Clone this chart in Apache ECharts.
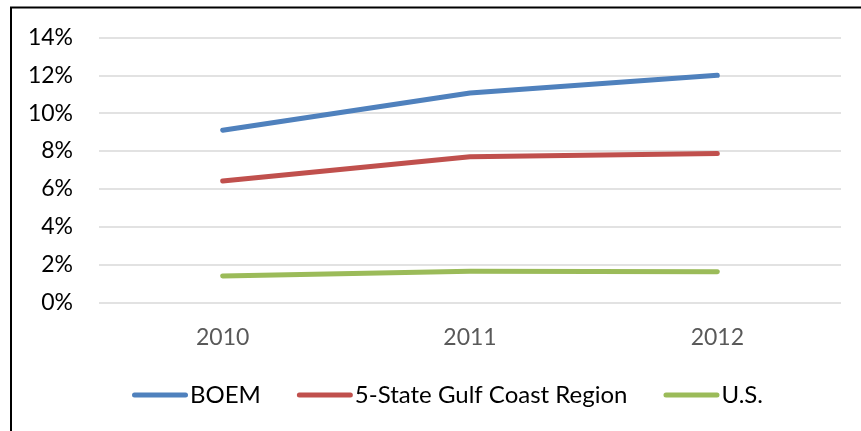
<!DOCTYPE html>
<html><head><meta charset="utf-8">
<script src="https://cdn.jsdelivr.net/npm/echarts@6/dist/echarts.min.js"></script>
<style>html,body{margin:0;padding:0;background:#fff}#c{width:861px;height:431px}</style>
</head><body><div id="c"></div>
<script>
const categories = ['2010', '2011', '2012'];
const boem = [9.1, 11.07, 12.0];
const gulf = [6.42, 7.7, 7.87];
const us = [1.4, 1.65, 1.63];
const yTicks = [0, 2, 4, 6, 8, 10, 12, 14];
const seriesNames = ['BOEM', '5-State Gulf Coast Region', 'U.S.'];
const colors = ['#4F81BD', '#C0504D', '#9BBB59'];

const FONT = 'Lato';
const capsule = 'path://M2.5,0H53.5A2.5,2.5,0,0,1,53.5,5H2.5A2.5,2.5,0,0,1,2.5,0Z';
const chart = echarts.init(document.getElementById('c'));
const mk = (name, data, color) => ({
  name, type: 'line', data, symbol: 'none', smooth: false,
  lineStyle: { width: 5, color, cap: 'round', join: 'round' },
  itemStyle: { color }
});
chart.setOption({
  animation: false,
  grid: { left: 99, right: 20, top: 37.5, bottom: 128.5 },
  xAxis: {
    type: 'category', data: categories, boundaryGap: true,
    axisLine: { show: false }, axisTick: { show: false },
    axisLabel: { color: '#595959', fontFamily: FONT, fontSize: 23, margin: 24 }
  },
  yAxis: {
    type: 'value', min: yTicks[0], max: yTicks[yTicks.length - 1], interval: 2,
    axisLine: { show: false }, axisTick: { show: false },
    axisLabel: { color: '#000', fontFamily: FONT, fontSize: 23, margin: 26, formatter: v => v + '%' },
    splitLine: { lineStyle: { color: '#D9D9D9', width: 1.5 } }
  },
  legend: {
    left: 127, top: 378, itemGap: 36, itemWidth: 56, itemHeight: 5,
    data: seriesNames.map(n => ({ name: n, icon: capsule })),
    textStyle: { color: '#000', fontFamily: FONT, fontSize: 24, padding: [0, 0, 0, -3] }
  },
  graphic: [
    { type: 'line', shape: { x1: 11, y1: 7.5, x2: 11, y2: 431 }, style: { stroke: '#000', lineWidth: 2 } },
    { type: 'line', shape: { x1: 10, y1: 7.5, x2: 861, y2: 7.5 }, style: { stroke: '#000', lineWidth: 2 } }
  ],
  series: [mk(seriesNames[0], boem, colors[0]), mk(seriesNames[1], gulf, colors[1]), mk(seriesNames[2], us, colors[2])]
});
</script></body></html>
